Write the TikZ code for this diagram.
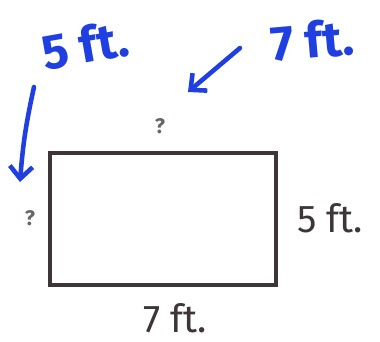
\documentclass[tikz,border=0pt]{standalone}
\usepackage{fontspec}
\setmainfont{Fira Sans}
\usepackage{xcolor}
\usetikzlibrary{positioning, arrows.meta}
\definecolor{penGray}{HTML}{3D3538}
\definecolor{askGray}{HTML}{6A6466}
\definecolor{inkBlue}{HTML}{1F3FE0}

\begin{document}
\begin{tikzpicture}[
    x=0.02cm, y=-0.02cm,
    pen/.style={draw=penGray, line width=2.2pt},
    dim/.style={text=penGray, font=\fontsize{22}{22}\selectfont},
    ask/.style={text=askGray, font=\fontsize{12}{12}\selectfont\bfseries},
    hint/.style={text=inkBlue, font=\fontsize{28}{28}\selectfont\bfseries},
    pointer/.style={draw=inkBlue, line width=2.6pt, line cap=round,
        -{Straight Barb[length=7pt, width=13pt]}}
]
\useasboundingbox (0,0) rectangle (380,342);
% the box
\coordinate (tl) at (50,153);
\coordinate (br) at (276,285);
\draw[pen] (tl) rectangle (br);
% labels
\node[ask] (qtop) at (160,126) {?};
\node[ask] (qleft) at (30,218) {?};
\node[dim] (sideR) at (330,218) {5 ft.};
\node[dim] (sideB) at (175,318) {7 ft.};
\node[hint, rotate=10] (hintL) at (85,45) {5 ft.};
\node[hint, rotate=5] (hintT) at (312,40) {7 ft.};
% pointers
\coordinate (fromL) at (34,87);
\coordinate (toL) at (20,182);
\coordinate (fromT) at (240,48);
\coordinate (toT) at (188,92);
\draw[pointer] (fromL) to[bend right=4] (toL);
\draw[pointer] (fromT) -- (toT);
\end{tikzpicture}
\end{document}
